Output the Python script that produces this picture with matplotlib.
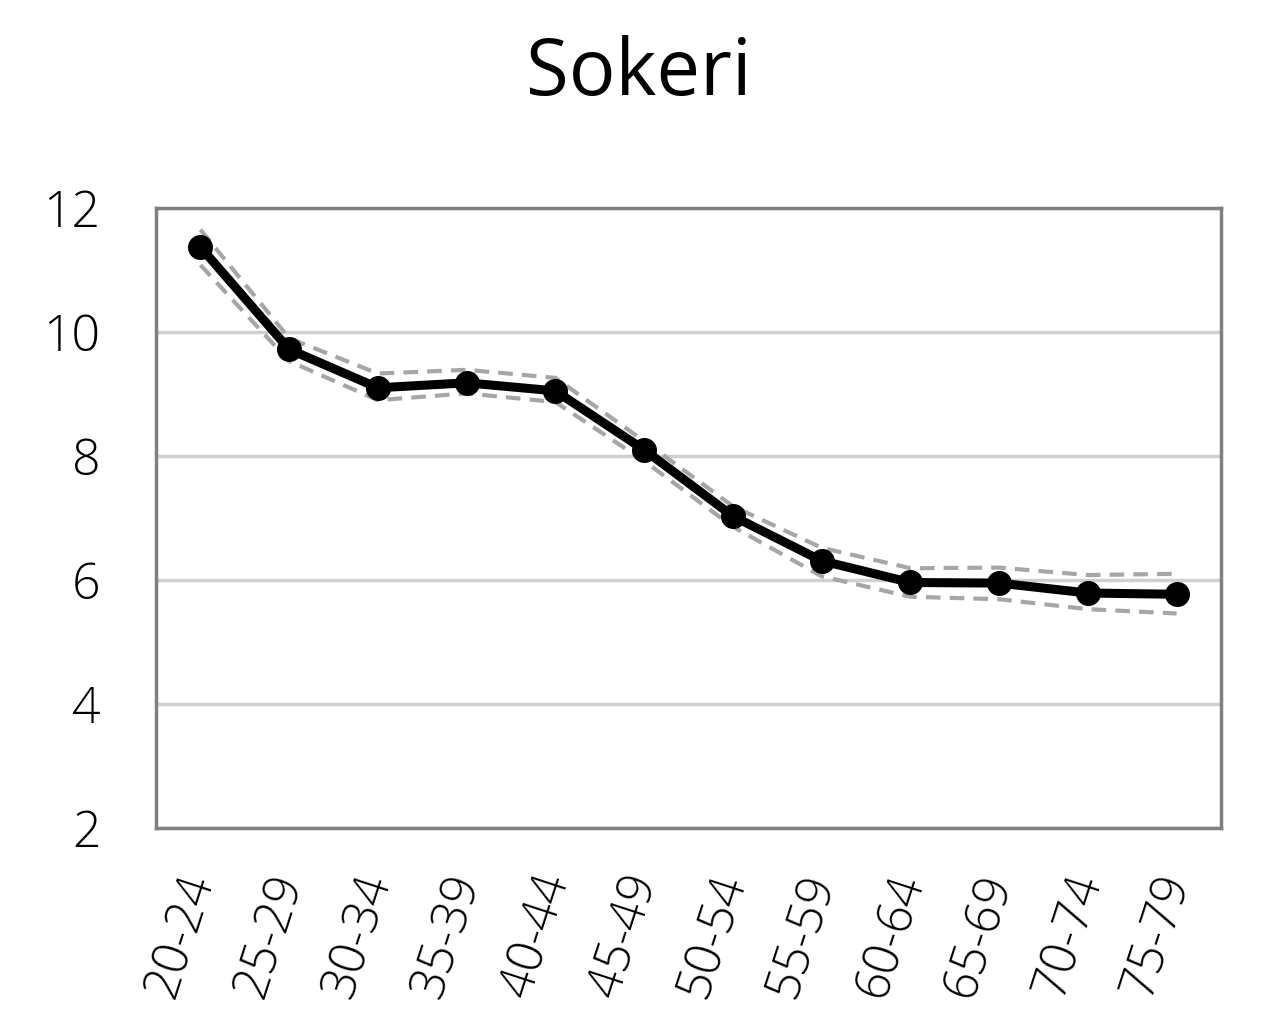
import numpy as np
import matplotlib
matplotlib.use("Agg")
import matplotlib.pyplot as plt

plt.rcParams['font.family'] = ['Open Sans', 'DejaVu Sans']
plt.rcParams['font.weight'] = 300

# age groups and values
ages = ["20-24", "25-29", "30-34", "35-39", "40-44", "45-49",
        "50-54", "55-59", "60-64", "65-69", "70-74", "75-79"]
mean = [11.37, 9.72, 9.10, 9.18, 9.05, 8.10, 7.03, 6.31, 5.96, 5.95, 5.79, 5.77]
upper = [11.65, 9.90, 9.33, 9.39, 9.26, 8.24, 7.19, 6.52, 6.19, 6.20, 6.08, 6.10]
lower = [11.08, 9.53, 8.90, 9.01, 8.87, 7.92, 6.86, 6.06, 5.73, 5.69, 5.53, 5.46]

fig = plt.figure(figsize=(12.77, 10.14), dpi=100)
ax = fig.add_axes([0.1222, 0.1834, 0.8339, 0.6115])

x = np.arange(len(ages))
ax.plot(x, upper, color="#a6a6a6", lw=3, ls=(0, (3.5, 2.2)), zorder=3)
ax.plot(x, lower, color="#a6a6a6", lw=3, ls=(0, (3.5, 2.2)), zorder=3)
ax.plot(x, mean, color="black", lw=6.5, marker="o", markersize=17, zorder=4)

ax.set_xlim(-0.5, len(ages) - 0.5)
ax.set_ylim(2, 12)
ax.set_yticks([2, 4, 6, 8, 10, 12])
ax.yaxis.grid(True, color="#d0d0d0", lw=2.5)
ax.set_axisbelow(True)
for s in ax.spines.values():
    s.set_color("#808080")
    s.set_linewidth(2.5)

ax.set_xticks(x)
ax.set_xticklabels(ages, rotation=72, ha="right", va="center", rotation_mode="anchor")
ax.tick_params(axis="both", length=0, labelsize=35)
ax.tick_params(axis="x", pad=34)
ax.tick_params(axis="y", pad=40)
for lab in ax.get_yticklabels():
    lab.set_fontsize(36)

fig.suptitle("Sokeri", fontsize=56, y=0.965)

fig.savefig("out.png", dpi=100)
